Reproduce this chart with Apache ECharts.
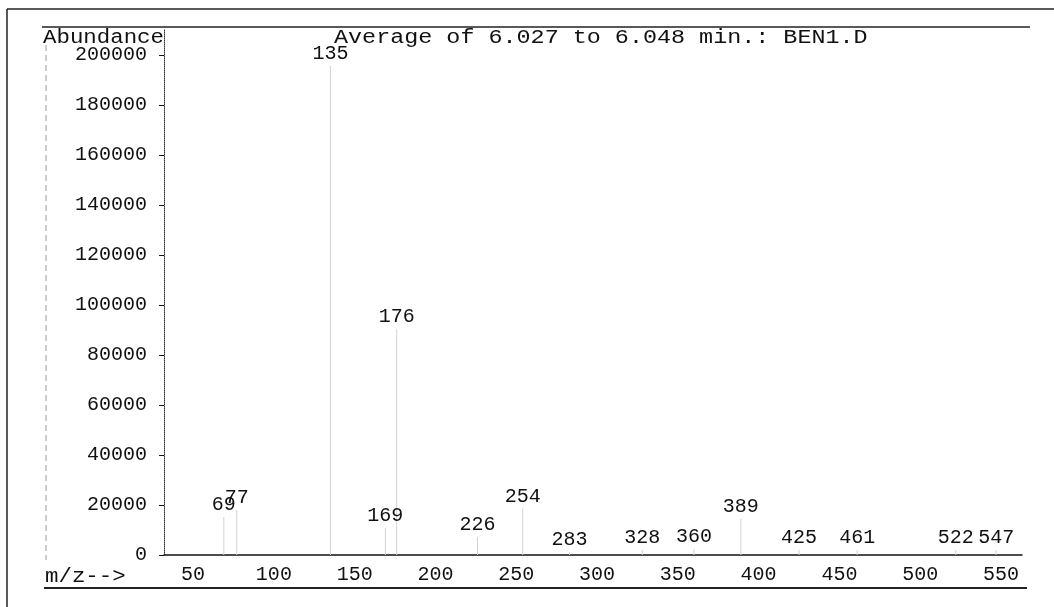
<!DOCTYPE html>
<html>
<head>
<meta charset="utf-8">
<script src="https://cdn.jsdelivr.net/npm/echarts@6/dist/echarts.min.js"></script>
<style>html,body{margin:0;padding:0;background:#fff}#c{width:1054px;height:607px}</style>
</head>
<body>
<div id="c"></div>
<script>
// Peak m/z values (labelled) and abundances
const mz = [69, 77, 135, 169, 176, 226, 254, 283, 328, 360, 389, 425, 461, 522, 547];
const abundance = [15200, 18000, 195600, 10800, 90400, 7200, 18600, 1200, 2000, 2400, 14400, 2000, 2000, 2000, 2000];
const xTickLabels = [50, 100, 150, 200, 250, 300, 350, 400, 450, 500, 550];
const yTickLabels = [0, 20000, 40000, 60000, 80000, 100000, 120000, 140000, 160000, 180000, 200000];
const titleText = 'Average of 6.027 to 6.048 min.: BEN1.D';

const FONT = '"Liberation Mono", "DejaVu Sans Mono", monospace';
const INK = '#111';
const chart = echarts.init(document.getElementById('c'), null, {renderer: 'canvas'});
const seriesData = mz.map((m, i) => [m, abundance[i]]);

chart.setOption({
  animation: false,
  backgroundColor: '#ffffff',
  grid: {left: 164, right: 32, top: 30, bottom: 52, containLabel: false},
  xAxis: {
    type: 'value', min: 32, max: 563,
    axisLine: {show: true, lineStyle: {color: '#111', width: 1.5}},
    axisTick: {show: false},
    splitLine: {show: false},
    axisLabel: {
      customValues: xTickLabels, margin: 10,
      fontFamily: FONT, fontSize: 20, color: INK
    }
  },
  yAxis: {
    type: 'value', min: 0, max: 210000,
    axisLine: {show: true, lineStyle: {color: '#333', width: 1, type: 'dotted'}},
    axisTick: {show: true, customValues: yTickLabels, length: 5, inside: false, lineStyle: {color: '#111', width: 1}},
    splitLine: {show: false},
    axisLabel: {
      customValues: yTickLabels, margin: 17,
      fontFamily: FONT, fontSize: 20, color: INK,
      formatter: v => String(v)
    }
  },
  series: [{
    type: 'bar',
    data: seriesData,
    barWidth: 1,
    itemStyle: {color: '#d2d2d2'},
    label: {
      show: true, position: 'top', distance: 2,
      fontFamily: FONT, fontSize: 20, color: INK,
      formatter: p => String(p.value[0])
    }
  }],
  graphic: [
    {type: 'line', shape: {x1: 7, y1: 9, x2: 1054, y2: 9}, style: {stroke: '#222', lineWidth: 1.5}},
    {type: 'line', shape: {x1: 7, y1: 9, x2: 7, y2: 607}, style: {stroke: '#222', lineWidth: 1.5}},
    {type: 'line', shape: {x1: 42, y1: 27, x2: 1030, y2: 27}, style: {stroke: '#222', lineWidth: 1.5}},
    {type: 'line', shape: {x1: 44, y1: 588, x2: 1027, y2: 588}, style: {stroke: '#222', lineWidth: 2}},
    {type: 'line', shape: {x1: 46, y1: 45, x2: 46, y2: 560}, style: {stroke: '#999', lineWidth: 1, lineDash: [6, 4]}},
    {type: 'text', x: 43, y: 38, scaleX: 1.12, style: {text: 'Abundance', font: '20px ' + FONT, fill: INK, textVerticalAlign: 'middle', verticalAlign: 'middle'}},
    {type: 'text', x: 334, y: 38, scaleX: 1.17, style: {text: titleText, font: '20px ' + FONT, fill: INK, textVerticalAlign: 'middle', verticalAlign: 'middle'}},
    {type: 'text', x: 45, y: 577, scaleX: 1.12, style: {text: 'm/z-->', font: '20px ' + FONT, fill: INK, textVerticalAlign: 'middle', verticalAlign: 'middle'}}
  ]
});
</script>
</body>
</html>
